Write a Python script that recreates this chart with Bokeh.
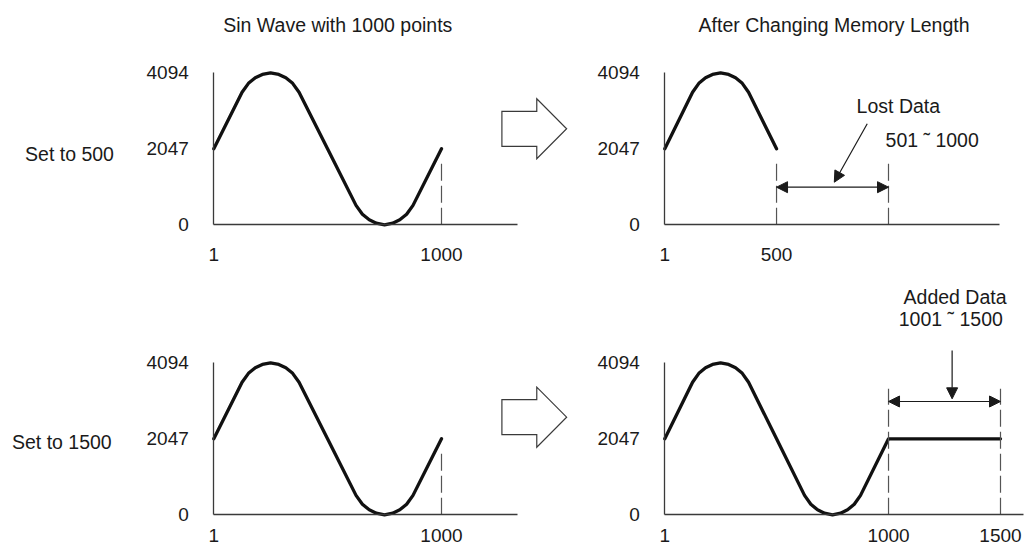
from bokeh.plotting import figure
from bokeh.models import (Range1d, FixedTicker, Label, Arrow, NormalHead,
                          LinearAxis)
from bokeh.embed import file_html
from bokeh.resources import INLINE

FONT = "Liberation Sans"
INK = "#1a1a1a"
AXIS = "#3a3a3a"
W, H = 1031, 552

# ---- data ----
wave_x = [1, 125, 153, 183, 214, 250, 286, 317, 347, 375, 500,
          625, 653, 683, 714, 750, 786, 817, 847, 875, 1000]
wave_y = [2047, 3571, 3810, 3960, 4050, 4094, 4050, 3960, 3810, 3571, 2047,
          523, 284, 134, 44, 0, 44, 134, 284, 523, 2047]
added_x = [1000, 1500]
added_y = [2047, 2047]
short_len = 500
old_len = 1000
long_len = 1500
y_ticks = [0, 2047, 4094]
x_ticks_tl = [1, 1000]
x_ticks_tr = [1, 500]
x_ticks_bl = [1, 1000]
x_ticks_br = [1, 1000, 1500]
titles = ["Sin Wave with 1000 points", "After Changing Memory Length"]
row_labels = ["Set to 500", "Set to 1500"]
lost_texts = ["Lost Data", "501 \u02dc 1000"]
added_texts = ["Added Data", "1001 \u02dc 1500"]


# ---- layout: each panel gets its own scale, anchored on the page ----
def x_scale(v0, px0, v1, px1):
    ppu = (px1 - px0) / (v1 - v0)
    start = v0 - px0 / ppu
    return Range1d(start, start + W / ppu)


def y_scale(v0, py0, v1, py1):
    ppu = (py0 - py1) / (v1 - v0)
    start = v0 - (H - py0) / ppu
    return Range1d(start, start + H / ppu)


p = figure(width=W, height=H, x_range=x_scale(1, 213.3, 1000, 441),
           y_range=y_scale(0, 224.3, 2047, 148.3),
           x_axis_type=None, y_axis_type=None,
           output_backend="svg", toolbar_location=None,
           min_border=0, min_border_left=0, min_border_right=0,
           min_border_top=0, min_border_bottom=0)
p.outline_line_color = None
p.grid.visible = False
p.extra_x_ranges = {
    "tl": x_scale(1, 213.3, 1000, 441),
    "tr": x_scale(1, 664.3, 1000, 888),
    "bl": x_scale(1, 213.3, 1000, 441),
    "br": x_scale(1, 664.3, 1500, 1000),
}
p.extra_y_ranges = {
    "top": y_scale(0, 224.3, 2047, 148.3),
    "bottom": y_scale(0, 514.3, 2047, 438.3),
}


def style_axis(ax, standoff):
    ax.major_tick_line_color = None
    ax.minor_tick_line_color = None
    ax.major_tick_out = 0
    ax.major_tick_in = 0
    ax.major_label_standoff = standoff
    ax.major_label_text_font = FONT
    ax.major_label_text_font_size = "19px"
    ax.major_label_text_color = INK
    ax.axis_line_color = AXIS
    ax.axis_line_width = 1.3


def axes(xn, yn, x_ticks, x_end, x_standoff):
    xa = LinearAxis(x_range_name=xn, y_range_name=yn, fixed_location=0,
                    bounds=(1, x_end), ticker=FixedTicker(ticks=x_ticks))
    ya = LinearAxis(x_range_name=xn, y_range_name=yn, fixed_location=1,
                    bounds=(0, y_ticks[-1]), ticker=FixedTicker(ticks=y_ticks))
    style_axis(xa, x_standoff)
    style_axis(ya, 25)
    p.add_layout(xa, "below")
    p.add_layout(ya, "left")


def wave(xn, yn, xs, ys):
    p.line(xs, ys, x_range_name=xn, y_range_name=yn, line_color="#111111",
           line_width=3.3, line_join="round", line_cap="round")


def dashed(xn, yn, xs, top):
    p.segment(x0=xs, y0=[0] * len(xs), x1=xs, y1=[top] * len(xs),
              x_range_name=xn, y_range_name=yn,
              line_color="#555555", line_width=1.2, line_dash="17 5")


def label(xn, yn, x, y, text, align="center"):
    p.add_layout(Label(x=x, y=y, text=text, text_align=align,
                       text_baseline="middle", text_font=FONT,
                       text_font_size="19.5px", text_color=INK,
                       x_range_name=xn, y_range_name=yn))


def head():
    return NormalHead(size=11, fill_color=INK, line_color=INK, line_width=1)


def arrow(xn, yn, x0, y0, x1, y1, both=False):
    p.add_layout(Arrow(start=head() if both else None, end=head(),
                       x_start=x0, y_start=y0, x_end=x1, y_end=y1,
                       line_color=INK, line_width=1.2,
                       x_range_name=xn, y_range_name=yn))


def block_arrow(xn, yn, mid):
    p.patch([1265, 1418, 1418, 1549, 1418, 1418, 1265],
            [mid + 471, mid + 471, mid + 808, mid, mid - 808, mid - 471, mid - 471],
            fill_color="white", line_color=AXIS, line_width=1.2,
            line_join="miter", x_range_name=xn, y_range_name=yn)


# ---- top left: original 1000 points ----
axes("tl", "top", x_ticks_tl, 1332, 23)
wave("tl", "top", wave_x, wave_y)
dashed("tl", "top", [old_len], 1686)
label("tl", "top", 545, 5368, titles[0])
label("tl", "top", -437, 1912, row_labels[0], align="right")
block_arrow("tl", "top", 2586)

# ---- top right: memory length set to 500 ----
axes("tr", "top", x_ticks_tr, 1496, 23)
keep = [i for i, x in enumerate(wave_x) if x <= short_len]
wave("tr", "top", [wave_x[i] for i in keep], [wave_y[i] for i in keep])
dashed("tr", "top", [short_len, old_len], 1686)
arrow("tr", "top", short_len, 1013, old_len, 1013, both=True)
arrow("tr", "top", 905, 2720, 758, 1147)
label("tr", "top", 757, 5368, titles[1])
label("tr", "top", 1044, 3192, lost_texts[0])
label("tr", "top", 1195, 2279, lost_texts[1])

# ---- bottom left: original 1000 points ----
axes("bl", "bottom", x_ticks_bl, 1332, 14)
wave("bl", "bottom", wave_x, wave_y)
dashed("bl", "bottom", [old_len], 1686)
label("bl", "bottom", -447, 1974, row_labels[1], align="right")
block_arrow("bl", "bottom", 2629)

# ---- bottom right: memory length set to 1500 ----
axes("br", "bottom", x_ticks_br, 1601, 14)
wave("br", "bottom", wave_x + added_x[1:], wave_y + added_y[1:])
dashed("br", "bottom", [old_len, long_len], 3394)
arrow("br", "bottom", old_len, 3052, long_len, 3052, both=True)
arrow("br", "bottom", 1284, 4425, 1284, 3124)
label("br", "bottom", 1297, 5861, added_texts[0])
label("br", "bottom", 1278, 5279, added_texts[1])

open("out.html", "w").write(file_html(p, INLINE))
